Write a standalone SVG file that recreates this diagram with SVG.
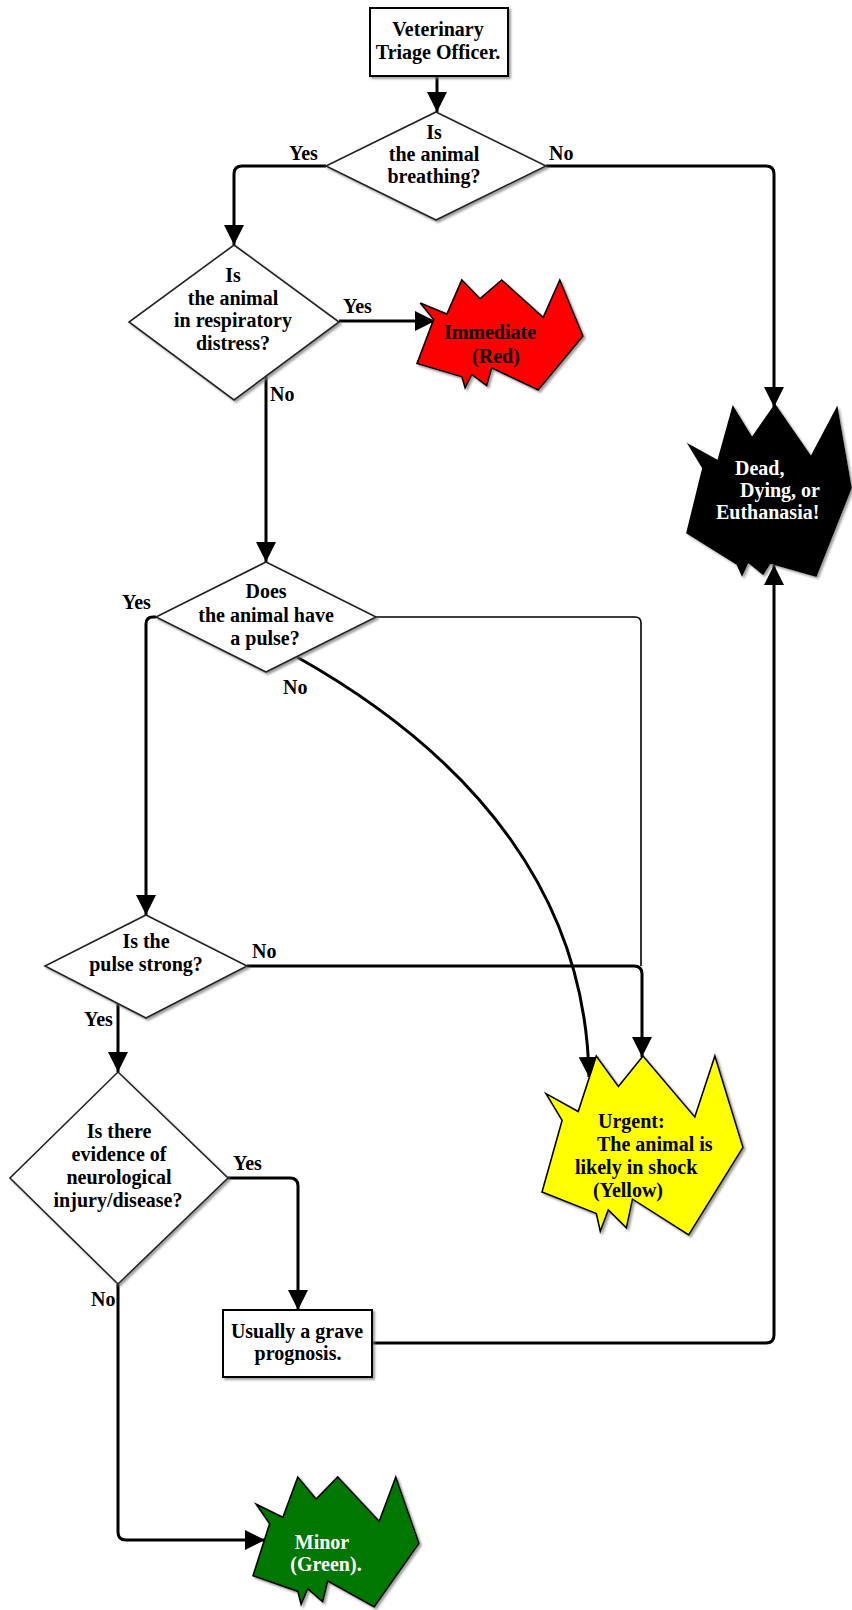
<svg xmlns="http://www.w3.org/2000/svg" width="852" height="1610" viewBox="0 0 852 1610">
<style>
text{font-family:"Liberation Serif","Times New Roman",serif;font-weight:bold;font-size:20px;fill:#000}
.c{text-anchor:middle}
.w{fill:#fff}
.box{fill:#fff;stroke:#000;stroke-width:2}
.dia{fill:#fff;stroke:#222;stroke-width:1.6}
.boom{stroke:#000;stroke-width:1.6;stroke-linejoin:miter}
.con{fill:none;stroke:#000;stroke-width:3}
.thin{fill:none;stroke:#000;stroke-width:1.6}
</style>
<defs>
<filter id="sh" x="-10%" y="-10%" width="130%" height="130%">
<feDropShadow dx="2" dy="2" stdDeviation="1.2" flood-color="#777" flood-opacity="0.7"/>
</filter>
<marker id="ah" markerUnits="userSpaceOnUse" markerWidth="20" markerHeight="20" refX="20" refY="10" orient="auto">
<path d="M0,0 L20,10 L0,20 Z" fill="#000"/>
</marker>
</defs>

<g id="connectors">
<path class="con" d="M437,76 L437,112" marker-end="url(#ah)"/>
<path class="con" d="M326,166 L242,166 Q234,166 234,174 L234,245" marker-end="url(#ah)"/>
<path class="con" d="M546,166 L766,166 Q774,166 774,174 L774,407" marker-end="url(#ah)"/>
<path class="con" d="M339,321 L435,321" marker-end="url(#ah)"/>
<path class="con" d="M266,376 L266,562" marker-end="url(#ah)"/>
<path class="con" d="M156,617 L153,617 Q146,617 146,624 L146,915" marker-end="url(#ah)"/>
<path class="thin" d="M376,617 L635,617 Q641,617 641,623 L641,966"/>
<path class="con" d="M247,966 L634,966 Q642,966 642,974 L642,1057" marker-end="url(#ah)"/>
<path class="con" d="M297,657 C480,760 586,900 589,1077" marker-end="url(#ah)"/>
<path class="con" d="M118,1003 L118,1072" marker-end="url(#ah)"/>
<path class="con" d="M228,1178 L290,1178 Q298,1178 298,1186 L298,1310" marker-end="url(#ah)"/>
<path class="con" d="M118,1284 L118,1532 Q118,1540 126,1540 L265,1540" marker-end="url(#ah)"/>
<path class="con" d="M372,1343 L766,1343 Q774,1343 774,1335 L774,565" marker-end="url(#ah)"/>
</g>

<g id="labels">
<text x="289" y="160">Yes</text>
<text x="549" y="160">No</text>
<text x="343" y="313">Yes</text>
<text x="270" y="401">No</text>
<text x="122" y="609">Yes</text>
<text x="283" y="694">No</text>
<text x="252" y="958">No</text>
<text x="84" y="1026">Yes</text>
<text x="233" y="1170">Yes</text>
<text x="91" y="1306">No</text>
</g>

<g id="start">
<rect class="box" x="370" y="8" width="138" height="68" filter="url(#sh)"/>
<text class="c" x="438" y="36">Veterinary</text>
<text class="c" x="438" y="59">Triage Officer.</text>
</g>

<g id="q-breathing">
<polygon class="dia" points="436,112 546,166 436,220 326,166" filter="url(#sh)"/>
<text class="c" x="434" y="139">Is</text>
<text class="c" x="434" y="161">the animal</text>
<text class="c" x="434" y="183">breathing?</text>
</g>

<g id="q-distress">
<polygon class="dia" points="234,245 339,322 234,400 129,322" filter="url(#sh)"/>
<text class="c" x="233" y="282">Is</text>
<text class="c" x="233" y="305">the animal</text>
<text class="c" x="233" y="327">in respiratory</text>
<text class="c" x="233" y="350">distress?</text>
</g>

<g id="immediate-red">
<polygon class="boom" fill="#ff0000" filter="url(#sh)" points="420.3,303.1 446.9,314.1 461.8,280 480.1,298.7 501.7,280 543.2,317.4 559.8,280 583,336.1 538.2,390 491.7,368 486.7,385.6 471.8,374.6 465.1,387.8 461.8,376.8 417,363.6 433.6,319.6"/>
<text class="c" x="490" y="339">Immediate</text>
<text class="c" x="496" y="363">(Red)</text>
</g>

<g id="dead">
<polygon class="boom" fill="#000" filter="url(#sh)" points="689,445 718,461 733,407 752,438 775,405 811,457 837,408 851,488 816,576 770,563 763,574 748,562 742,575 737,564 687,533 703,468"/>
<text class="w" x="735" y="475">Dead,</text>
<text class="w" x="740" y="497">Dying, or</text>
<text class="w" x="716" y="519">Euthanasia!</text>
</g>

<g id="q-pulse">
<polygon class="dia" points="266,562 376,617 266,672 156,617" filter="url(#sh)"/>
<text class="c" x="266" y="598">Does</text>
<text class="c" x="266" y="622">the animal have</text>
<text class="c" x="265" y="645">a pulse?</text>
</g>

<g id="q-strong">
<polygon class="dia" points="146,915 247,966 146,1018 45,966" filter="url(#sh)"/>
<text class="c" x="146" y="948">Is the</text>
<text class="c" x="146" y="971">pulse strong?</text>
</g>

<g id="urgent-yellow">
<polygon class="boom" fill="#ffff00" filter="url(#sh)" points="546,1093.6 578.2,1111.5 596.3,1056 618.4,1086.4 643,1056 694.8,1116.9 714.9,1056 743,1147.3 688.7,1235 632.5,1199.2 626.4,1227.8 608.3,1209.9 600.3,1231.4 596.3,1213.5 542,1192 562.1,1120.4"/>
<text x="598" y="1128">Urgent:</text>
<text x="597" y="1151">The animal is</text>
<text x="575" y="1174">likely in shock</text>
<text x="593" y="1197">(Yellow)</text>
</g>

<g id="q-neuro">
<polygon class="dia" points="118,1072 228,1178 118,1284 10,1178" filter="url(#sh)"/>
<text class="c" x="119" y="1138">Is there</text>
<text class="c" x="119" y="1161">evidence of</text>
<text class="c" x="119" y="1184">neurological</text>
<text class="c" x="118" y="1207">injury/disease?</text>
</g>

<g id="grave">
<rect class="box" x="223" y="1310" width="149" height="67" filter="url(#sh)"/>
<text class="c" x="297" y="1338">Usually a grave</text>
<text class="c" x="298" y="1360">prognosis.</text>
</g>

<g id="minor-green">
<polygon class="boom" fill="#007700" filter="url(#sh)" points="256.3,1504.3 282.9,1517.3 297.8,1477 316.1,1499.1 337.7,1477 379.2,1521.2 395.8,1477 419,1543.3 374.2,1607 327.7,1581 322.7,1601.8 307.8,1588.8 301.1,1604.4 297.8,1591.4 253,1575.8 269.6,1523.8"/>
<text class="c w" x="322" y="1549">Minor</text>
<text class="c w" x="326" y="1571">(Green).</text>
</g>
</svg>
